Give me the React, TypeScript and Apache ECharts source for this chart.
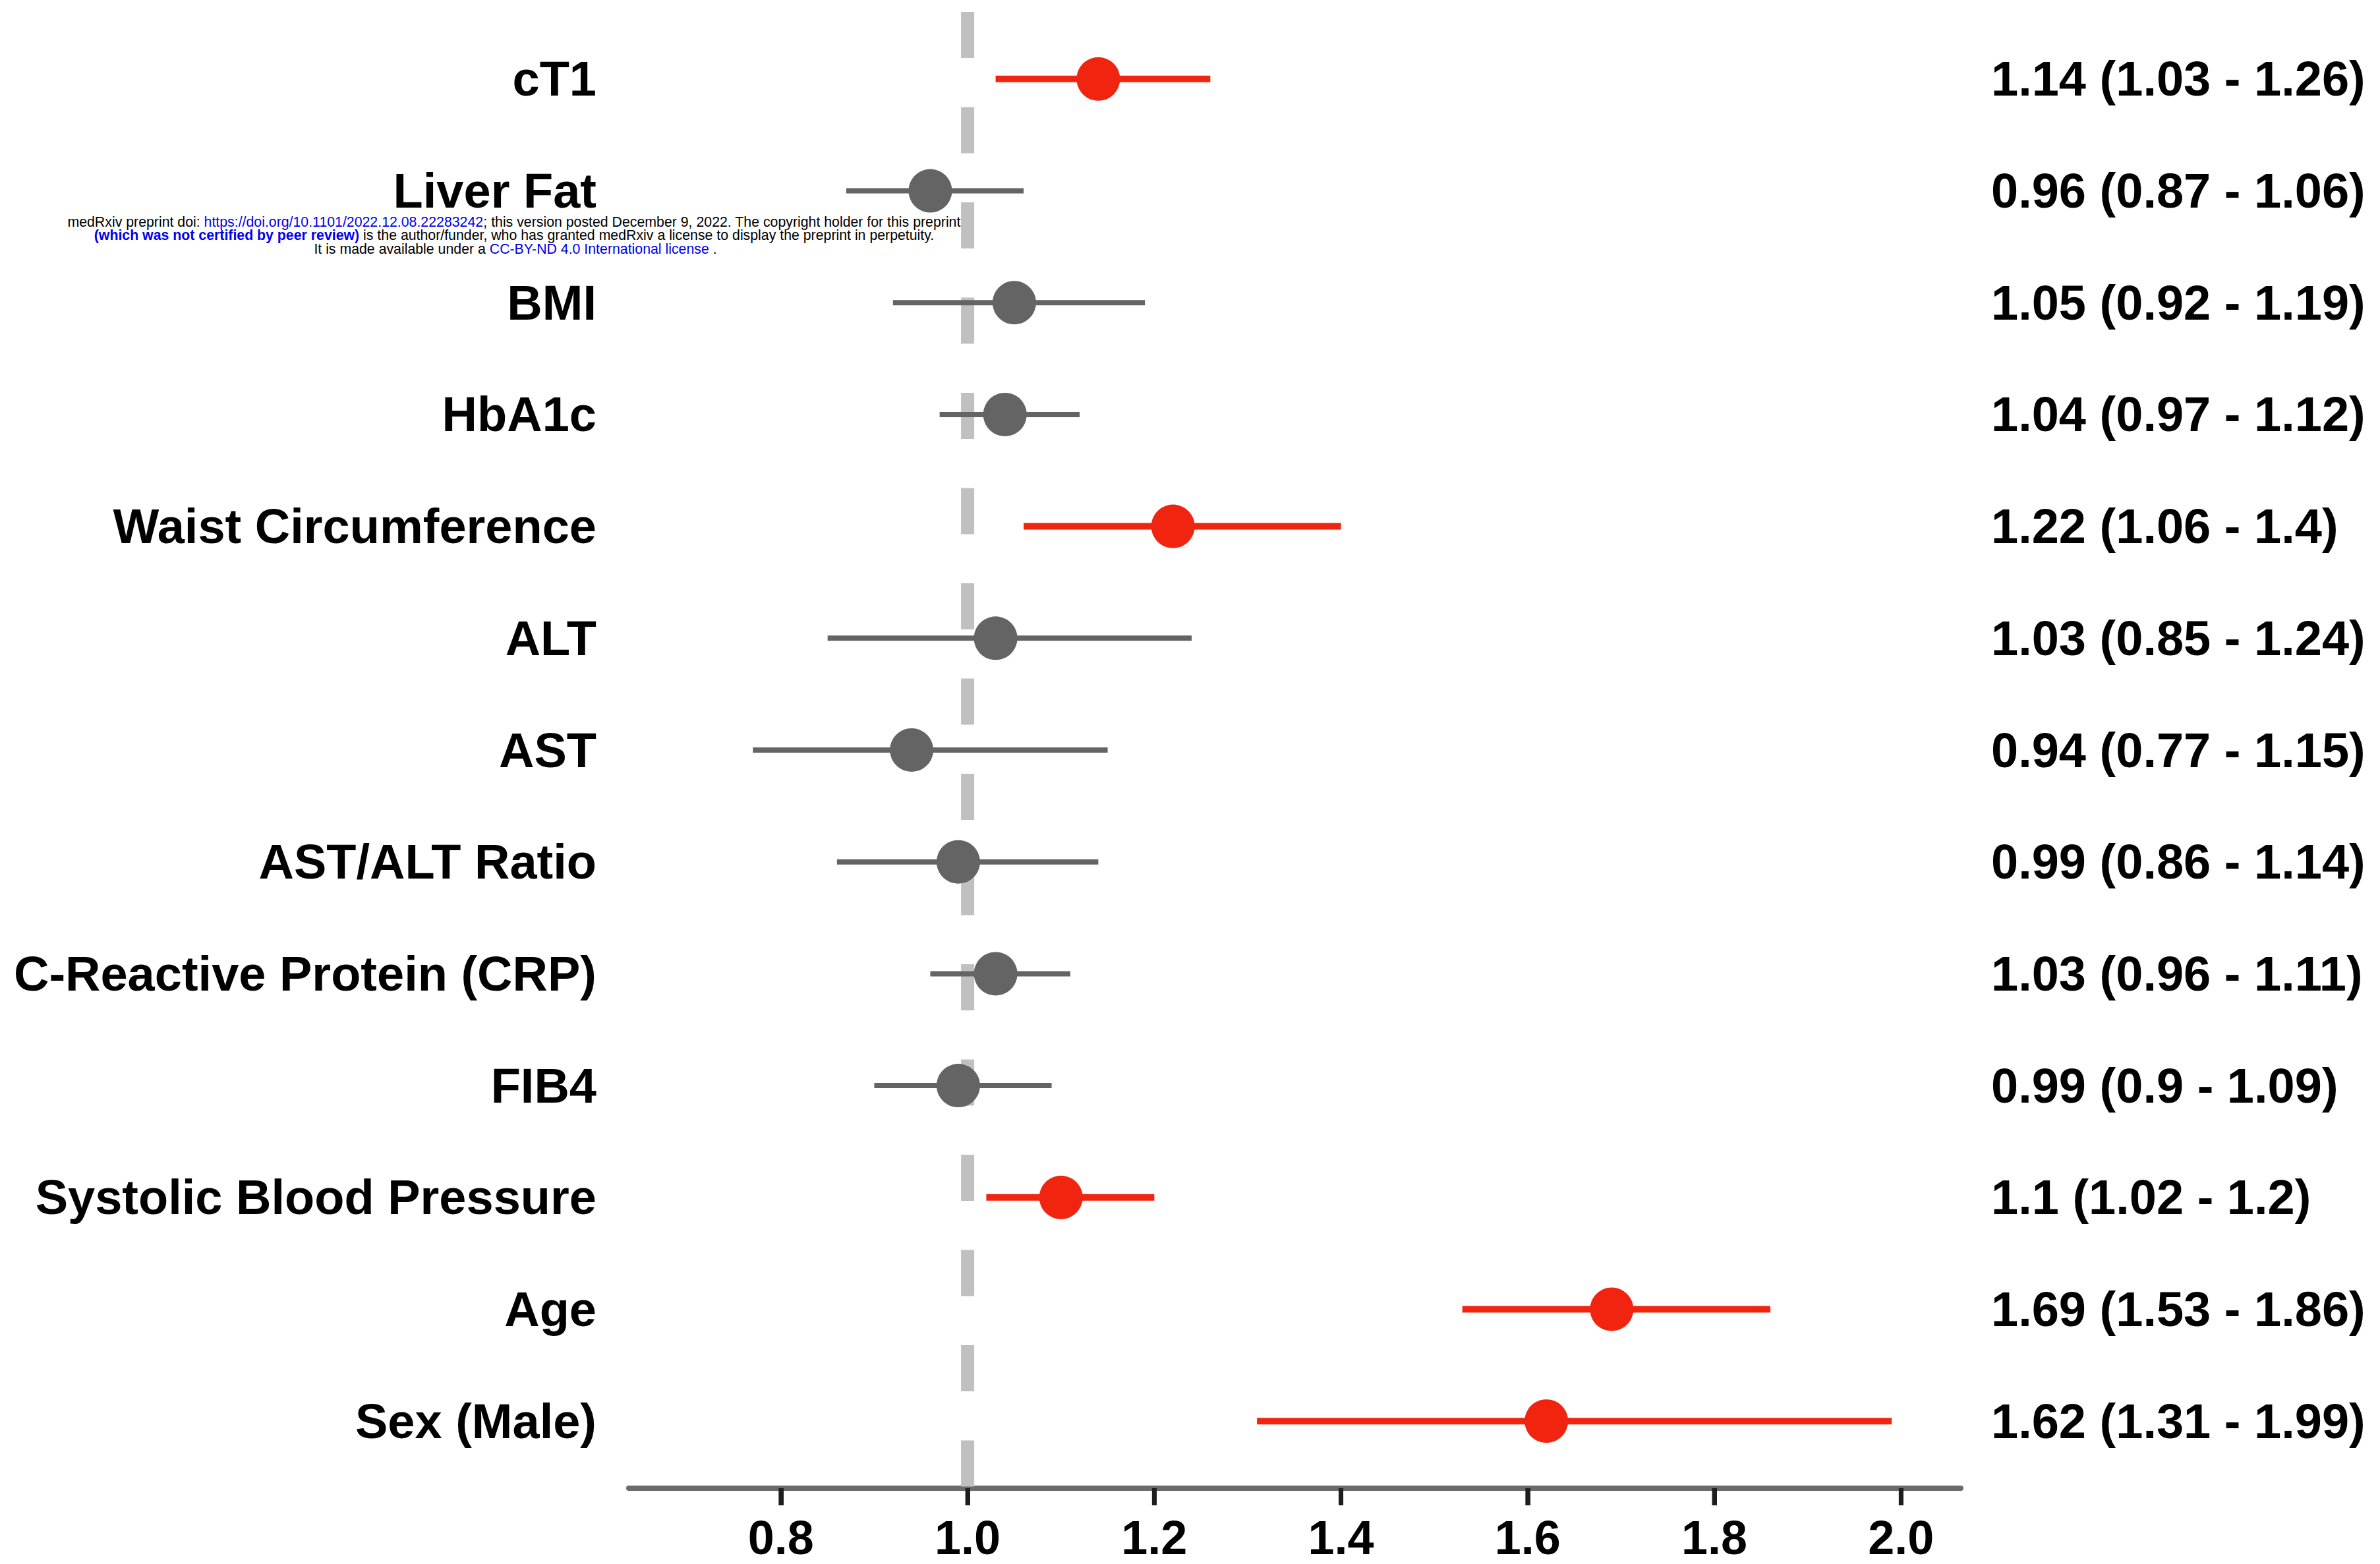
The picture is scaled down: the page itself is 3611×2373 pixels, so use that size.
import React, { useEffect, useRef } from "react";
import * as echarts from "echarts";

const categories = [
  "cT1",
  "Liver Fat",
  "BMI",
  "HbA1c",
  "Waist Circumference",
  "ALT",
  "AST",
  "AST/ALT Ratio",
  "C-Reactive Protein (CRP)",
  "FIB4",
  "Systolic Blood Pressure",
  "Age",
  "Sex (Male)",
];
const estimates = [1.14, 0.96, 1.05, 1.04, 1.22, 1.03, 0.94, 0.99, 1.03, 0.99, 1.1, 1.69, 1.62];
const lower = [1.03, 0.87, 0.92, 0.97, 1.06, 0.85, 0.77, 0.86, 0.96, 0.9, 1.02, 1.53, 1.31];
const upper = [1.26, 1.06, 1.19, 1.12, 1.4, 1.24, 1.15, 1.14, 1.11, 1.09, 1.2, 1.86, 1.99];
const significant = [true, false, false, false, true, false, false, false, false, false, true, true, true];
const ciLabels = [
  "1.14 (1.03 - 1.26)",
  "0.96 (0.87 - 1.06)",
  "1.05 (0.92 - 1.19)",
  "1.04 (0.97 - 1.12)",
  "1.22 (1.06 - 1.4)",
  "1.03 (0.85 - 1.24)",
  "0.94 (0.77 - 1.15)",
  "0.99 (0.86 - 1.14)",
  "1.03 (0.96 - 1.11)",
  "0.99 (0.9 - 1.09)",
  "1.1 (1.02 - 1.2)",
  "1.69 (1.53 - 1.86)",
  "1.62 (1.31 - 1.99)",
];
const xTicks = [0.8, 1.0, 1.2, 1.4, 1.6, 1.8, 2.0];
const referenceValue = 1;
const Y_MIN = -0.6;
const Y_MAX = 12.6;

const RED = "#f0240f";
const GRAY = "#646464";
const FONT = "'Liberation Sans', Arial, Helvetica, sans-serif";
const WM = 21.3;
const WM_LH = 18;

export default function App() {
  const ref = useRef<HTMLDivElement>(null);

  useEffect(() => {
    document.body.style.margin = "0";
    const el = ref.current!;
    const chart = echarts.init(el, undefined, { renderer: "svg" });
    const rowIdx = categories.map((_, i) => i);
    const colorOf = (i: number) => (significant[i] ? RED : GRAY);

    const yCommon = {
      type: "value" as const,
      inverse: true,
      min: Y_MIN,
      max: Y_MAX,
      axisLine: { show: false },
      axisTick: { show: false },
      splitLine: { show: false },
    };

    const option: any = {
      animation: false,
      backgroundColor: "#ffffff",
      grid: { left: 954, right: 3611 - 2975, top: 18, bottom: 2373 - 2258, containLabel: false },
      xAxis: {
        type: "value",
        position: "bottom",
        min: 0.637,
        max: 2.064,
        axisLine: { show: true, onZero: false, lineStyle: { color: "#6b6b6b", width: 8 } },
        axisTick: {
          show: true,
          inside: false,
          customValues: xTicks,
          length: 26,
          lineStyle: { color: "#1e1e1e", width: 7 },
        },
        axisLabel: {
          customValues: xTicks,
          formatter: (v: number) => v.toFixed(1),
          fontSize: 72,
          fontWeight: "bold",
          fontFamily: FONT,
          color: "#000",
          margin: 39,
        },
        splitLine: { show: false },
      },
      yAxis: [
        {
          ...yCommon,
          position: "left",
          axisLabel: {
            customValues: rowIdx,
            formatter: (v: number) => categories[Math.round(v)] ?? "",
            fontSize: 74,
            fontWeight: "bold",
            fontFamily: FONT,
            color: "#000",
            margin: 49,
          },
        },
        {
          ...yCommon,
          position: "right",
          axisLabel: {
            customValues: rowIdx,
            formatter: (v: number) => ciLabels[Math.round(v)] ?? "",
            fontSize: 74,
            fontWeight: "bold",
            fontFamily: FONT,
            color: "#000",
            margin: 46,
            align: "left",
          },
        },
      ],
      series: [
        {
          type: "line",
          data: [
            [referenceValue, Y_MIN],
            [referenceValue, Y_MAX],
          ],
          symbol: "none",
          silent: true,
          z: 1,
          lineStyle: { color: "#c0c0c0", width: 20, type: [70, 74.5], cap: "butt" },
        },
        {
          // x-axis tick marks, positioned through the axis scale
          type: "custom",
          z: 5,
          silent: true,
          clip: false,
          data: xTicks.map((v) => [v, Y_MAX]),
          encode: { x: 0, y: 1 },
          renderItem: (params: any, api: any) => {
            const p = api.coord([api.value(0), api.value(1)]);
            return {
              type: "rect",
              shape: { x: p[0] - 3.5, y: p[1], width: 7, height: 26 },
              style: { fill: "#1e1e1e" },
            };
          },
        },
        {
          type: "custom",
          z: 2,
          data: rowIdx.map((i) => [lower[i], upper[i], i]),
          encode: { x: [0, 1], y: 2 },
          renderItem: (params: any, api: any) => {
            const i = api.value(2);
            const p1 = api.coord([api.value(0), i]);
            const p2 = api.coord([api.value(1), i]);
            return {
              type: "line",
              shape: { x1: p1[0], y1: p1[1], x2: p2[0], y2: p2[1] },
              style: { stroke: colorOf(i), lineWidth: significant[i] ? 10 : 8 },
            };
          },
        },
        {
          type: "scatter",
          z: 3,
          symbol: "circle",
          symbolSize: 66,
          itemStyle: { opacity: 1 },
          data: rowIdx.map((i) => ({
            value: [estimates[i], i],
            itemStyle: { color: colorOf(i), opacity: 1 },
          })),
        },
      ],
      graphic: [
        {
          type: "text",
          x: 780,
          y: 337,
          z: 100,
          style: {
            text:
              "{a|medRxiv preprint doi: }{b|https://doi.org/10.1101/2022.12.08.22283242}{a|; this version posted December 9, 2022. The copyright holder for this preprint}",
            align: "center",
            verticalAlign: "middle",
            rich: {
              a: { fontSize: WM, lineHeight: WM_LH, fontFamily: FONT, fill: "#000" },
              b: { fontSize: WM, lineHeight: WM_LH, fontFamily: FONT, fill: "#0000ee" },
            },
          },
        },
        {
          type: "text",
          x: 780,
          y: 357,
          z: 100,
          style: {
            text:
              "{c|(which was not certified by peer review)}{a| is the author/funder, who has granted medRxiv a license to display the preprint in perpetuity.}",
            align: "center",
            verticalAlign: "middle",
            rich: {
              a: { fontSize: WM, lineHeight: WM_LH, fontFamily: FONT, fill: "#000" },
              c: { fontSize: WM, lineHeight: WM_LH, fontFamily: FONT, fill: "#0000ee", fontWeight: "bold" },
            },
          },
        },
        {
          type: "text",
          x: 782,
          y: 378,
          z: 100,
          style: {
            text: "{a|It is made available under a }{b|CC-BY-ND 4.0 International license}{a| .}",
            align: "center",
            verticalAlign: "middle",
            rich: {
              a: { fontSize: WM, lineHeight: WM_LH, fontFamily: FONT, fill: "#000" },
              b: { fontSize: WM, lineHeight: WM_LH, fontFamily: FONT, fill: "#0000ee" },
            },
          },
        },
      ],
    };

    chart.setOption(option);
    return () => chart.dispose();
  }, []);

  return <div ref={ref} style={{ width: 3611, height: 2373 }} />;
}
